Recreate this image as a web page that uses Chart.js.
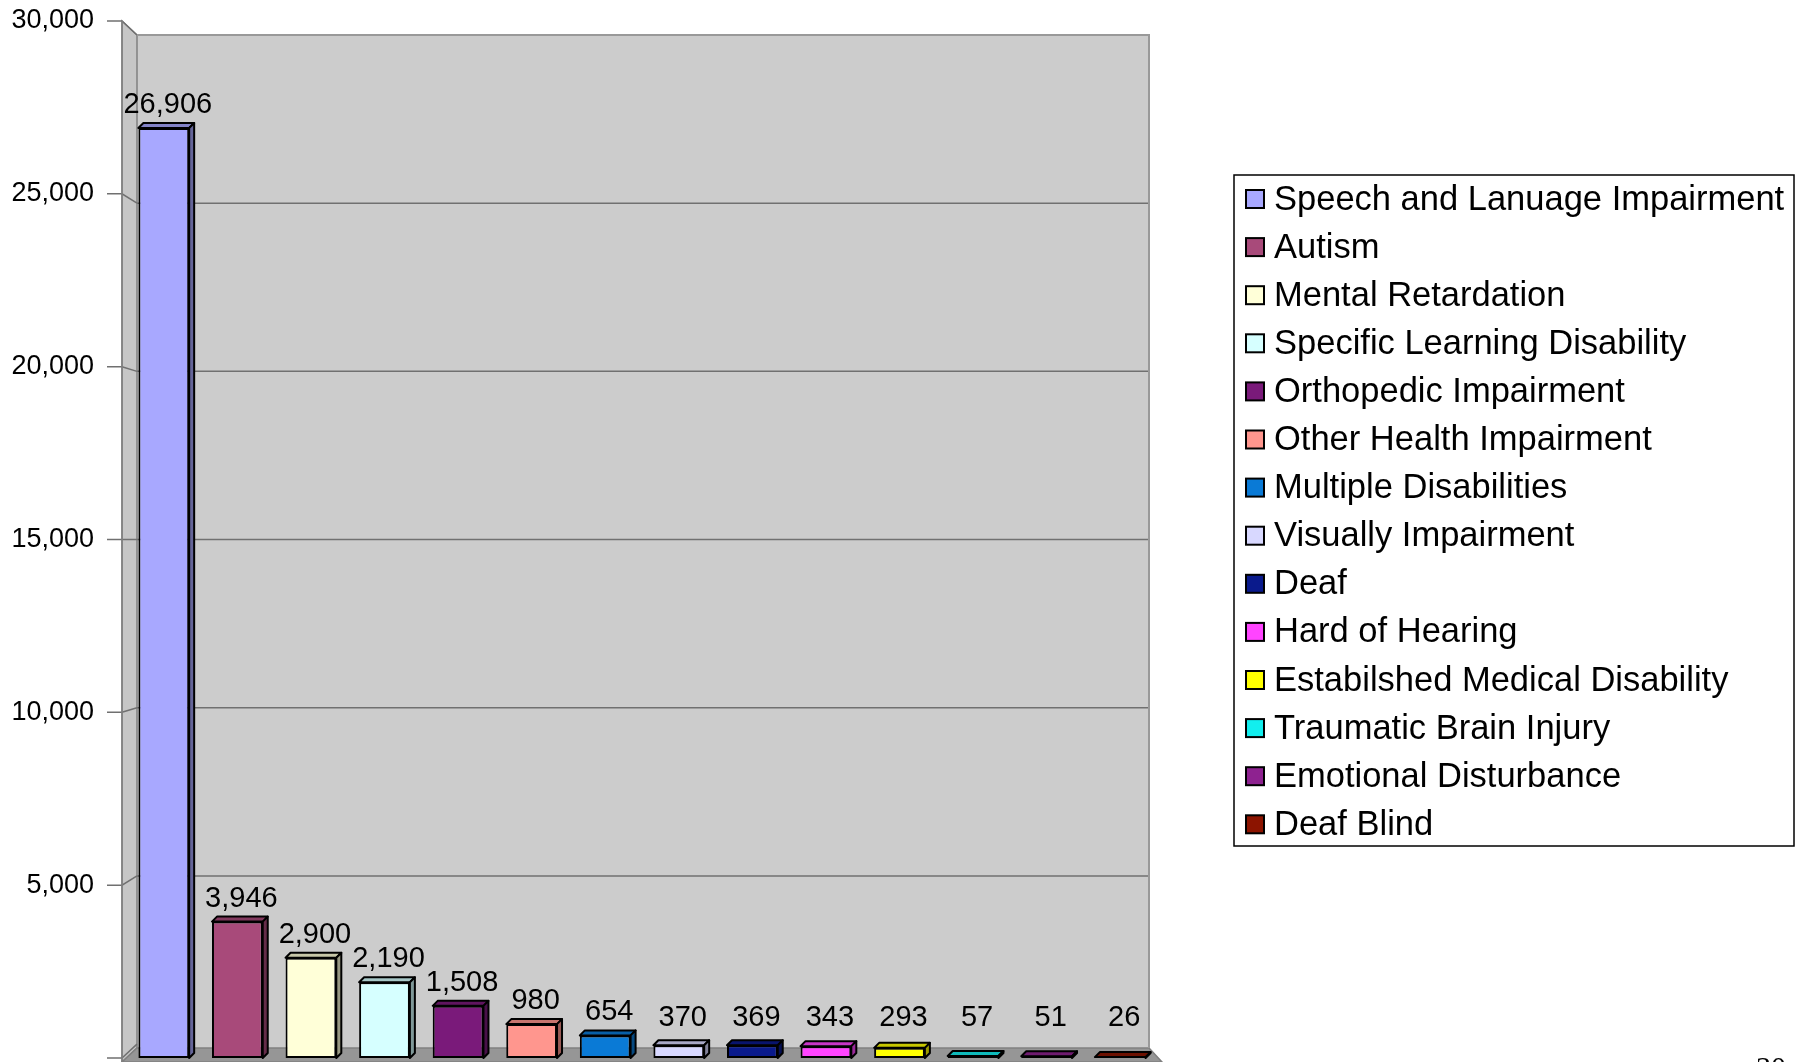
<!DOCTYPE html>
<html>
<head>
<meta charset="utf-8">
<script src="https://cdn.jsdelivr.net/npm/chart.js@4.4.0/dist/chart.umd.min.js"></script>
<style>
  html, body { margin: 0; padding: 0; background: #ffffff; overflow: hidden; }
  #wrap { position: relative; width: 1802px; height: 1062px; }
</style>
</head>
<body>
<div id="wrap"><canvas id="myChart"></canvas></div>
<script>
const categories = [
  "Speech and Lanuage Impairment",
  "Autism",
  "Mental Retardation",
  "Specific Learning Disability",
  "Orthopedic Impairment",
  "Other Health Impairment",
  "Multiple Disabilities",
  "Visually Impairment",
  "Deaf",
  "Hard of Hearing",
  "Estabilshed Medical Disability",
  "Traumatic Brain Injury",
  "Emotional Disturbance",
  "Deaf Blind",
];
const studentCounts = [26906, 3946, 2900, 2190, 1508, 980, 654, 370, 369, 343, 293, 57, 51, 26];
const barColors = [
  "#a8a8ff", "#a84a7a", "#ffffd8", "#d6ffff", "#7a1a7a", "#ff968e", "#0a7ad6",
  "#d8d8ff", "#0a1a8c", "#ff44ff", "#ffff00", "#12eeee", "#8e2290", "#8c1400",
];
const yMax = 30000;
const yStep = 5000;
const pageNumber = "30";

const FONT = '"Liberation Sans", Arial, sans-serif';

//darker version of a bar colour for the top and side faces
function shade(hex, f) {
  const n = parseInt(hex.slice(1), 16);
  const r = Math.round(((n >> 16) & 255) * f);
  const g = Math.round(((n >> 8) & 255) * f);
  const b = Math.round((n & 255) * f);
  return `rgb(${r},${g},${b})`;
}

//front and back planes of the gray box, taken from the chart area
function planes(ca) {
  const front = { l: ca.left - 5, r: ca.right + 5, t: ca.top, b: ca.bottom + 4 };
  const back = { l: front.l + 15, r: front.r - 13, t: front.t + 14, b: front.b - 14 };
  return { front, back };
}

//draws the walls, floor, gridlines and axis ticks behind the bars
const wallsPlugin = {
  id: "walls",
  beforeDraw(chart) {
    const { ctx, chartArea, scales } = chart;
    const { front: f, back: b } = planes(chartArea);
    ctx.save();

    ctx.fillStyle = "#cccccc";
    ctx.fillRect(b.l, b.t, b.r - b.l, b.b - b.t);

    //left side wall
    ctx.beginPath();
    ctx.moveTo(f.l, f.t);
    ctx.lineTo(b.l, b.t);
    ctx.lineTo(b.l, b.b);
    ctx.lineTo(f.l, f.b);
    ctx.closePath();
    ctx.fillStyle = "#c6c6c6";
    ctx.fill();
    ctx.strokeStyle = "#808080";
    ctx.lineWidth = 1.5;
    ctx.stroke();

    //floor
    ctx.beginPath();
    ctx.moveTo(f.l, f.b);
    ctx.lineTo(b.l, b.b);
    ctx.lineTo(b.r, b.b);
    ctx.lineTo(f.r, f.b);
    ctx.closePath();
    ctx.fillStyle = "#969696";
    ctx.fill();
    ctx.strokeStyle = "#808080";
    ctx.stroke();

    //gridlines on the back wall + little diagonals on the side wall
    const y = scales.y;
    for (let v = 0; v <= yMax; v += yStep) {
      const yf = y.getPixelForValue(v);
      const yb = b.t + ((yf - f.t) * (b.b - b.t)) / (f.b - f.t);
      ctx.strokeStyle = "#707070";
      ctx.lineWidth = 1.5;
      if (v > 0) {
        ctx.beginPath();
        ctx.moveTo(b.l, yb);
        ctx.lineTo(b.r, yb);
        ctx.stroke();
      }
      ctx.beginPath();
      ctx.moveTo(f.l - 15, yf);
      ctx.lineTo(f.l, yf);
      ctx.lineTo(b.l, yb);
      ctx.stroke();
    }

    //back wall top and right edge
    ctx.strokeStyle = "#999999";
    ctx.lineWidth = 2;
    ctx.beginPath();
    ctx.moveTo(b.l, b.t);
    ctx.lineTo(b.r, b.t);
    ctx.lineTo(b.r, b.b);
    ctx.stroke();

    //front axis line
    ctx.strokeStyle = "#808080";
    ctx.lineWidth = 1.5;
    ctx.beginPath();
    ctx.moveTo(f.l, f.t);
    ctx.lineTo(f.l, f.b);
    ctx.stroke();

    ctx.restore();
  },
};

//top and side faces of each bar, then the value above it
const barDepthPlugin = {
  id: "barDepth",
  afterDatasetsDraw(chart) {
    const { ctx, chartArea } = chart;
    const meta = chart.getDatasetMeta(0);
    const dx = 5;
    const dy = 5;
    ctx.save();
    ctx.lineWidth = 2;
    ctx.strokeStyle = "#000000";
    ctx.lineJoin = "round";
    meta.data.forEach((bar, i) => {
      const { x, y, base, width } = bar.getProps(["x", "y", "base", "width"], true);
      const l = x - width / 2;
      const r = x + width / 2;

      ctx.beginPath();
      ctx.moveTo(l, y);
      ctx.lineTo(l + dx, y - dy);
      ctx.lineTo(r + dx, y - dy);
      ctx.lineTo(r, y);
      ctx.closePath();
      ctx.fillStyle = shade(barColors[i], 0.78);
      ctx.fill();
      ctx.stroke();

      ctx.beginPath();
      ctx.moveTo(r, y);
      ctx.lineTo(r + dx, y - dy);
      ctx.lineTo(r + dx, base - dy);
      ctx.lineTo(r, base);
      ctx.closePath();
      ctx.fillStyle = shade(barColors[i], 0.6);
      ctx.fill();
      ctx.stroke();

      //tiny bars keep their label a bit higher up, like the original
      const labelY = Math.min(y - dy - 10, chartArea.bottom - 32);
      ctx.fillStyle = "#000000";
      ctx.font = `29px ${FONT}`;
      ctx.textAlign = "center";
      ctx.textBaseline = "alphabetic";
      ctx.fillText(studentCounts[i].toLocaleString("en-US"), x + 4, labelY);
    });
    ctx.restore();
  },
};

//boxed legend on the right, plus the cut off page number
const legendBoxPlugin = {
  id: "legendBox",
  afterDraw(chart) {
    const { ctx } = chart;
    ctx.save();
    ctx.strokeStyle = "#000000";
    ctx.lineWidth = 1.5;
    ctx.strokeRect(1234, 175, 560, 671);

    ctx.font = `34.5px ${FONT}`;
    ctx.textAlign = "left";
    ctx.textBaseline = "middle";
    categories.forEach((name, i) => {
      const cy = 199 + i * 48.1;
      ctx.fillStyle = barColors[i];
      ctx.fillRect(1246, cy - 9, 18, 18);
      ctx.lineWidth = 2;
      ctx.strokeRect(1246, cy - 9, 18, 18);
      ctx.fillStyle = "#000000";
      ctx.fillText(name, 1274, cy + 1);
    });

    ctx.font = '30px "Liberation Serif", "Times New Roman", serif';
    ctx.textAlign = "center";
    ctx.textBaseline = "alphabetic";
    ctx.fillText(pageNumber, 1771, 1077);
    ctx.restore();
  },
};

const data = {
  labels: categories,
  datasets: [
    {
      data: studentCounts,
      backgroundColor: barColors,
      borderColor: "#000000",
      borderWidth: 2,
      borderSkipped: false,
      categoryPercentage: 1,
      barPercentage: 0.69,
    },
  ],
};

const config = {
  type: "bar",
  data,
  options: {
    responsive: true,
    maintainAspectRatio: false,
    animation: false,
    layout: { padding: { top: 21, bottom: 4, right: 645, left: 0 } },
    scales: {
      x: { display: false },
      y: {
        min: 0,
        max: yMax,
        grid: { display: false, drawTicks: false },
        border: { display: false },
        ticks: {
          stepSize: yStep,
          padding: 33,
          color: "#000000",
          font: { family: FONT, size: 27 },
          callback: (v) => (v === 0 ? "" : v.toLocaleString("en-US")),
        },
        afterFit(scale) {
          scale.width = 127;
          scale.paddingTop = 0;
          scale.paddingBottom = 0;
        },
      },
    },
    plugins: {
      legend: { display: false },
      tooltip: { enabled: false },
    },
  },
  plugins: [wallsPlugin, barDepthPlugin, legendBoxPlugin],
};

let myChart = new Chart(document.getElementById("myChart"), config);
</script>
</body>
</html>
